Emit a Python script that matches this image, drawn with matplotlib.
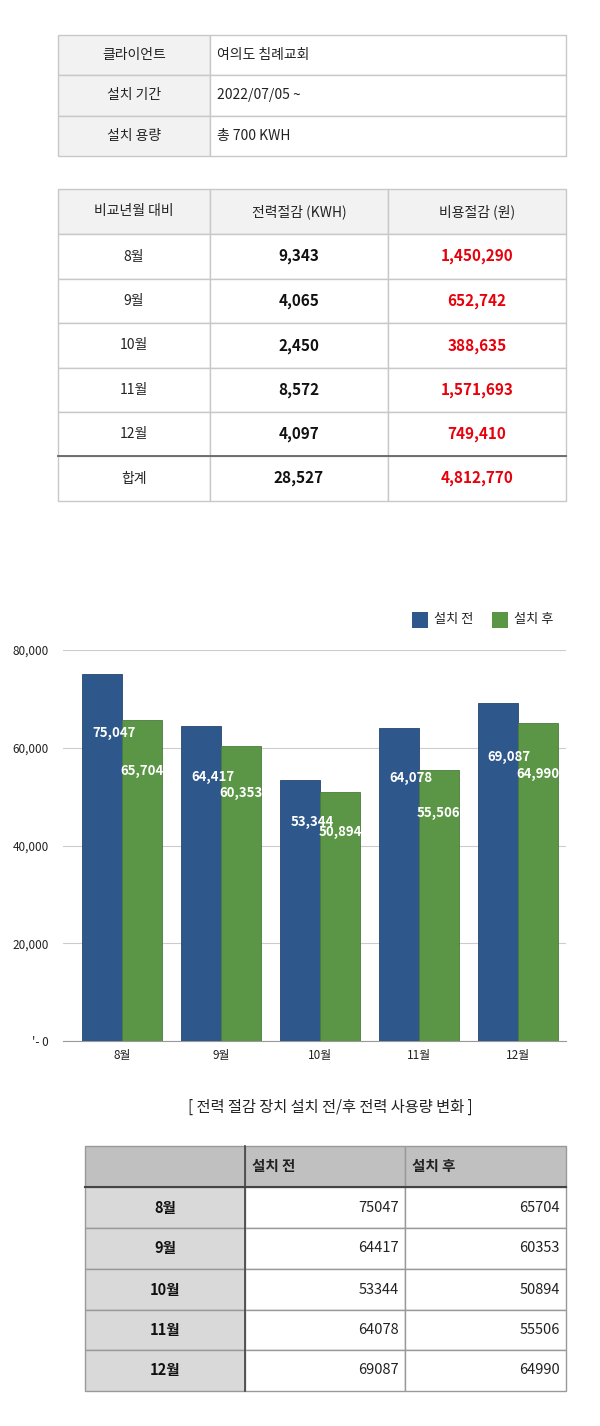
import matplotlib
matplotlib.use("Agg")
import matplotlib.pyplot as plt
from matplotlib.patches import Rectangle

plt.rcParams["font.family"] = ["Noto Sans CJK KR", "Noto Sans CJK JP", "Noto Sans CJK SC", "DejaVu Sans"]

info_labels = ["클라이언트", "설치 기간", "설치 용량"]
info_values = ["여의도 침례교회", "2022/07/05 ~", "총 700 KWH"]

cmp_header = ["비교년월 대비", "전력절감 (KWH)", "비용절감 (원)"]
months = ["8월", "9월", "10월", "11월", "12월"]
kwh_saved = ["9,343", "4,065", "2,450", "8,572", "4,097"]
won_saved = ["1,450,290", "652,742", "388,635", "1,571,693", "749,410"]
total_label = "합계"
total_kwh = "28,527"
total_won = "4,812,770"

before = [75047, 64417, 53344, 64078, 69087]
after = [65704, 60353, 50894, 55506, 64990]
yticks = [0, 20000, 40000, 60000, 80000]
ytick_labels = ["'- 0", "20,000", "40,000", "60,000", "80,000"]
series_names = ["설치 전", "설치 후"]
caption = "[ 전력 절감 장치 설치 전/후 전력 사용량 변화 ]"

W, H = 600, 1426
fig = plt.figure(figsize=(W / 100, H / 100), dpi=100)
ax = fig.add_axes([0, 0, 1, 1])
ax.set_xlim(0, W); ax.set_ylim(H, 0); ax.axis("off")
LC = "#c8c8c8"

def cell(x0, y0, x1, y1, fc="white", ec=LC, lw=1):
    ax.add_patch(Rectangle((x0, y0), x1 - x0, y1 - y0, fc=fc, ec=ec, lw=lw))

# table 1
ys = [35, 75, 116, 156]
for i in range(3):
    cell(58, ys[i], 210, ys[i + 1], fc="#f2f2f2")
    cell(210, ys[i], 566, ys[i + 1])
    ym = (ys[i] + ys[i + 1]) / 2
    ax.text(134, ym, info_labels[i], ha="center", va="center", fontsize=10, color="#222")
    ax.text(217, ym, info_values[i], ha="left", va="center", fontsize=10, color="#222")

# table 2
xs = [58, 210, 388, 566]
rows = [189, 234, 279, 323, 368, 412, 456, 501]
for c in range(3):
    cell(xs[c], rows[0], xs[c + 1], rows[1], fc="#f2f2f2")
    ax.text((xs[c] + xs[c + 1]) / 2, (rows[0] + rows[1]) / 2, cmp_header[c], ha="center", va="center", fontsize=10, color="#222")
data_rows = list(zip(months, kwh_saved, won_saved)) + [(total_label, total_kwh, total_won)]
for r, (m, k, w) in enumerate(data_rows):
    y0, y1 = rows[r + 1], rows[r + 2]
    ym = (y0 + y1) / 2
    for c in range(3):
        cell(xs[c], y0, xs[c + 1], y1)
    ax.text(134, ym, m, ha="center", va="center", fontsize=10, color="#222")
    ax.text(299, ym, k, ha="center", va="center", fontsize=11, fontweight="bold", color="#111")
    ax.text(477, ym, w, ha="center", va="center", fontsize=11, fontweight="bold", color="#e8000b")
ax.plot([58, 566], [456, 456], color="#666", lw=1.3)

# legend
ax.add_patch(Rectangle((412, 612), 16, 16, fc="#2e578c", ec="none"))
ax.text(434, 620, series_names[0], va="center", fontsize=9.5, color="#222")
ax.add_patch(Rectangle((492, 612), 16, 16, fc="#5b9646", ec="none"))
ax.text(514, 620, series_names[1], va="center", fontsize=9.5, color="#222")
ax.text(330, 1107, caption, ha="center", va="center", fontsize=11, color="#222")

# table 3
tx = [85, 245, 405, 566]
tr = [1146, 1187, 1228, 1269, 1310, 1350, 1391]
for c in range(3):
    cell(tx[c], tr[0], tx[c + 1], tr[1], fc="#c0c0c0", ec="#999")
ax.text(252, 1166, series_names[0], ha="left", va="center", fontsize=10.5, fontweight="bold", color="#222")
ax.text(412, 1166, series_names[1], ha="left", va="center", fontsize=10.5, fontweight="bold", color="#222")
for r, m in enumerate(months):
    y0, y1 = tr[r + 1], tr[r + 2]
    ym = (y0 + y1) / 2
    cell(tx[0], y0, tx[1], y1, fc="#d9d9d9", ec="#999")
    cell(tx[1], y0, tx[2], y1, ec="#999")
    cell(tx[2], y0, tx[3], y1, ec="#999")
    ax.text(165, ym, m, ha="center", va="center", fontsize=10.5, fontweight="bold", color="#111")
    ax.text(399, ym, str(before[r]), ha="right", va="center", fontsize=10.5, color="#222")
    ax.text(560, ym, str(after[r]), ha="right", va="center", fontsize=10.5, color="#222")
ax.plot([85, 566], [1187, 1187], color="#444", lw=1.5)
ax.plot([245, 245], [1146, 1391], color="#444", lw=1.2)

# bar chart
bx = fig.add_axes([63 / W, 1 - 1041 / H, 503 / W, 391 / H])
bx.set_xlim(-0.6, 4.49); bx.set_ylim(0, 80000)
x = list(range(len(months)))
bw = 0.405
b1 = bx.bar([i - bw / 2 for i in x], before, bw, color="#2e578c", edgecolor="#24466f", lw=0.6, zorder=3)
b2 = bx.bar([i + bw / 2 for i in x], after, bw, color="#5b9646", edgecolor="#4a7a3a", lw=0.6, zorder=3)
for bars, vals, dx in ((b1, before, 0.12), (b2, after, 0.0)):
    for b, v in zip(bars, vals):
        bx.text(b.get_x() + b.get_width() / 2 + dx, v * 0.84, f"{v:,}", ha="center", va="center",
                color="white", fontsize=9.5, fontweight="bold", zorder=4)
bx.set_yticks(yticks); bx.set_yticklabels(ytick_labels, fontsize=8.5, color="#222")
bx.set_xticks(x); bx.set_xticklabels(months, fontsize=8.5, color="#222")
bx.grid(axis="y", color="#cccccc", lw=0.8, zorder=0)
for s in ["top", "right", "left"]:
    bx.spines[s].set_visible(False)
bx.spines["bottom"].set_color("#999")
bx.tick_params(length=0, pad=6)
bx.tick_params(axis="y", pad=10)

fig.savefig("out.png", dpi=100)
